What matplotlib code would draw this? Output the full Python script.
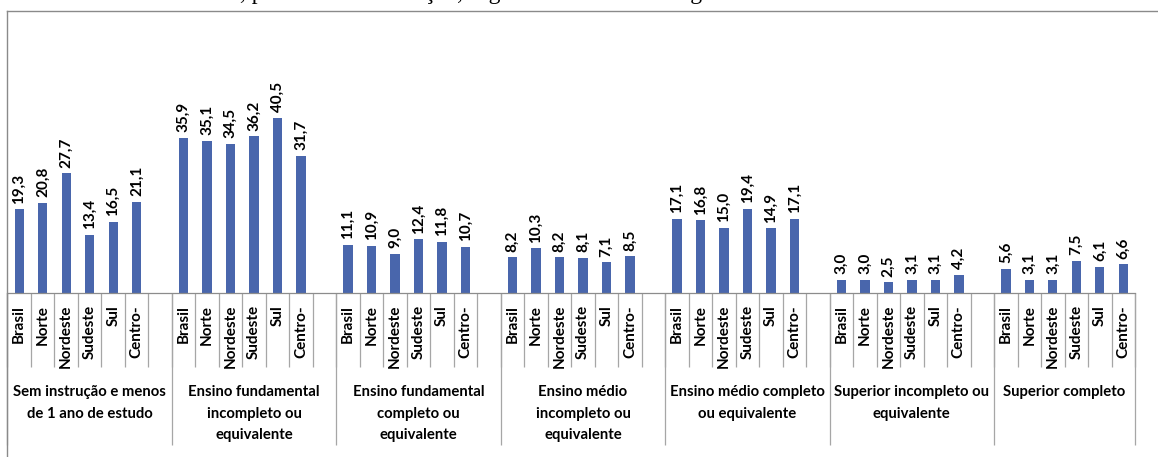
import matplotlib
matplotlib.use("Agg")
import matplotlib.pyplot as plt
from matplotlib.lines import Line2D

# ----- dados -----
regioes = ["Brasil", "Norte", "Nordeste", "Sudeste", "Sul", "Centro-"]
grupos = [
    "Sem instrução e menos\nde 1 ano de estudo",
    "Ensino fundamental\nincompleto ou\nequivalente",
    "Ensino fundamental\ncompleto ou\nequivalente",
    "Ensino médio\nincompleto ou\nequivalente",
    "Ensino médio completo\nou equivalente",
    "Superior incompleto ou\nequivalente",
    "Superior completo",
]
sem_instrucao = [19.3, 20.8, 27.7, 13.4, 16.5, 21.1]
fund_incompleto = [35.9, 35.1, 34.5, 36.2, 40.5, 31.7]
fund_completo = [11.1, 10.9, 9.0, 12.4, 11.8, 10.7]
medio_incompleto = [8.2, 10.3, 8.2, 8.1, 7.1, 8.5]
medio_completo = [17.1, 16.8, 15.0, 19.4, 14.9, 17.1]
sup_incompleto = [3.0, 3.0, 2.5, 3.1, 3.1, 4.2]
sup_completo = [5.6, 3.1, 3.1, 7.5, 6.1, 6.6]
series = [sem_instrucao, fund_incompleto, fund_completo, medio_incompleto,
          medio_completo, sup_incompleto, sup_completo]

titulo_a = "Gráfico 3 - Pessoas de 25 anos ou mais de idade"
titulo_b = ", por nível de instrução, segundo as Grandes Regiões - 2010"

# ----- layout (pixels) -----
W, H, DPI = 1158, 457, 100
x0_px, x1_px = 7.5, 1135.0
base_px = 293.0
ymax = 45.0
px_per_unit = 4.33
top_px = base_px - ymax * px_per_unit
ax_h = base_px - top_px

BLUE = "#4966AC"
GRID = "#a6a6a6"
FONT = "Lato"

fig = plt.figure(figsize=(W / DPI, H / DPI), dpi=DPI)
ax = fig.add_axes([x0_px / W, (H - base_px) / H,
                   (x1_px - x0_px) / W, ax_h / H])

# posições: 7 slots por grupo (6 regiões + vazio), último grupo sem vazio
xs, vals, tick_pos, tick_lab = [], [], [], []
slot = 0
grp_bounds = [-0.5]
grp_centers = []
for g, vs in enumerate(series):
    start = slot
    for r, v in enumerate(vs):
        xs.append(slot)
        vals.append(v)
        tick_pos.append(slot)
        tick_lab.append(regioes[r])
        slot += 1
    if g < len(series) - 1:
        slot += 1
    grp_bounds.append(slot - 0.5)
    grp_centers.append((start - 0.5 + slot - 0.5) / 2)
n_slots = slot

ax.bar(xs, vals, width=0.4, color=BLUE, zorder=2)
for x, v in zip(xs, vals):
    ax.annotate(f"{v:.1f}".replace(".", ","), (x, v), xytext=(0, 4),
                textcoords="offset points", rotation=90, ha="center",
                va="bottom", fontsize=11, fontweight="bold", family=FONT)

ax.set_xlim(-0.5, n_slots - 0.5)
ax.set_ylim(0, ymax)
ax.set_xticks(tick_pos)
ax.set_xticklabels(tick_lab, rotation=90, fontsize=11, fontweight="bold",
                   family=FONT)
ax.tick_params(axis="x", length=0, pad=8.6)
ax.set_yticks([])
for s in ["top", "right", "left"]:
    ax.spines[s].set_visible(False)
ax.spines["bottom"].set_color("#8c8c8c")
ax.spines["bottom"].set_linewidth(0.9)

# linhas de categoria
tr = ax.get_xaxis_transform()
short = [k - 0.5 for k in range(n_slots + 1)]
ax.vlines(short, 0, -74 / ax_h, transform=tr, clip_on=False,
          color=GRID, lw=0.9)
ax.vlines(grp_bounds, 0, -152 / ax_h, transform=tr, clip_on=False,
          color=GRID, lw=0.9)

for c, lab in zip(grp_centers, grupos):
    ax.text(c, -(385 - base_px) / ax_h, lab, transform=tr, ha="center",
            va="top", fontsize=10.7, fontweight="bold", family=FONT,
            linespacing=1.7)

# moldura do gráfico
fig.add_artist(Line2D([x0_px / W, 1], [1 - 11 / H, 1 - 11 / H],
                      transform=fig.transFigure, color="#8a8a8a", lw=1))
fig.add_artist(Line2D([7 / W, 7 / W], [0, 1 - 11 / H],
                      transform=fig.transFigure, color="#8a8a8a", lw=1))

# título (cortado no topo da imagem)
ty = 1 + 0.5 / H
fig.text(240 / W, ty, titulo_a, ha="right", va="baseline", fontsize=17,
         family="Liberation Serif")
fig.text(240 / W, ty, titulo_b, ha="left", va="baseline", fontsize=17,
         family="Liberation Serif")

fig.savefig("out.png", dpi=DPI)
